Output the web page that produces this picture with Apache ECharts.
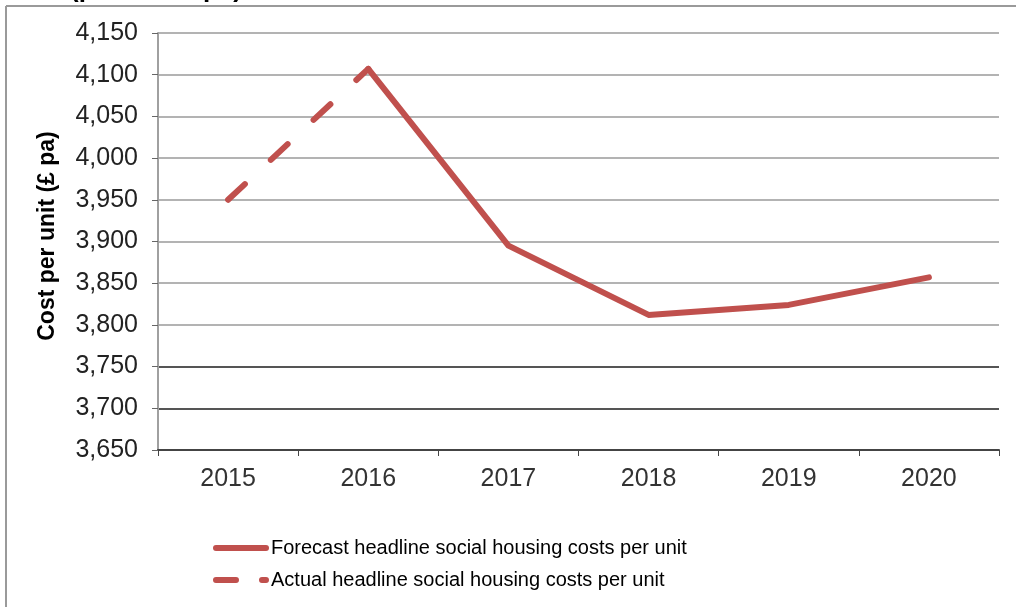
<!DOCTYPE html>
<html>
<head>
<meta charset="utf-8">
<script src="https://cdn.jsdelivr.net/npm/echarts@6/dist/echarts.min.js"></script>
<style>
html,body{margin:0;padding:0;background:#fff;}
#chart{width:1016px;height:607px;}
</style>
</head>
<body>
<div id="chart"></div>
<script>
const years = ['2015', '2016', '2017', '2018', '2019', '2020'];
const actualCosts = [3950, 4107, null, null, null, null];
const forecastCosts = [null, 4107, 3895, 3812, 3824, 3857];
const yMin = 3650, yMax = 4150, yStep = 50;
const forecastName = 'Forecast headline social housing costs per unit';
const actualName = 'Actual headline social housing costs per unit';
const axisTitle = 'Cost per unit (£ pa)';
const topTitle = '(per unit £ pa)';

const red = '#C0504D';
const chart = echarts.init(document.getElementById('chart'), null, {renderer: 'canvas'});
const gridColors = ['#444', '#555', '#555', '#b3b3b3', '#b3b3b3', '#b3b3b3', '#b3b3b3', '#b3b3b3', '#b3b3b3', '#b3b3b3', '#b3b3b3'];

chart.setOption({
  animation: false,
  backgroundColor: '#fff',
  grid: {left: 158, right: 17, top: 33, bottom: 157, containLabel: false},
  xAxis: {
    type: 'category',
    data: years,
    boundaryGap: true,
    axisLine: {lineStyle: {color: '#444', width: 2}},
    axisTick: {show: true, length: 6, lineStyle: {color: '#444', width: 1}},
    axisLabel: {fontFamily: 'Liberation Sans, Arial', fontSize: 25, color: '#333', margin: 17}
  },
  yAxis: {
    type: 'value',
    min: yMin, max: yMax, interval: yStep,
    axisLine: {show: true, lineStyle: {color: '#a0a0a0', width: 2}},
    axisTick: {show: true, length: 6, lineStyle: {color: '#666', width: 1}},
    splitLine: {show: true, lineStyle: {color: gridColors, width: 2}},
    axisLabel: {
      fontFamily: 'Liberation Sans, Arial', fontSize: 25, color: '#222', margin: 20,
      formatter: v => v.toLocaleString('en-US')
    }
  },
  legend: {
    orient: 'vertical',
    left: 208, top: 532,
    itemWidth: 50, itemHeight: 22, itemGap: 10,
    itemStyle: {opacity: 0},
    textStyle: {fontFamily: 'Liberation Sans, Arial', fontSize: 20, color: '#000', lineHeight: 22},
    data: [
      {name: forecastName, lineStyle: {width: 6, cap: 'round', type: 'solid'}},
      {name: actualName, lineStyle: {width: 6, cap: 'round', type: [20, 26]}}
    ]
  },
  graphic: [
    {type: 'line', shape: {x1: 6, y1: 6, x2: 1016, y2: 6}, style: {stroke: '#9a9a9a', lineWidth: 2}},
    {type: 'line', shape: {x1: 6, y1: 6, x2: 6, y2: 607}, style: {stroke: '#9a9a9a', lineWidth: 2}},
    {type: 'line', shape: {x1: 158, y1: 352, x2: 158, y2: 437}, style: {stroke: '#777', lineWidth: 2}},
    {type: 'text', x: 70, y: -10, style: {text: topTitle, font: 'bold 26px Liberation Sans, Arial', fill: '#000', verticalAlign: 'middle'}},
    {type: 'text', x: 48, y: 236, rotation: Math.PI / 2,
     style: {text: axisTitle, font: 'bold 23px Liberation Sans, Arial', fill: '#000', align: 'center', verticalAlign: 'middle'}}
  ],
  series: [
    {
      name: forecastName, type: 'line', data: forecastCosts,
      symbol: 'none', connectNulls: false,
      lineStyle: {color: red, width: 6, cap: 'round', join: 'round'},
      itemStyle: {color: red}
    },
    {
      name: actualName, type: 'line', data: actualCosts,
      symbol: 'none', connectNulls: false,
      lineStyle: {color: red, width: 6, type: [23, 35.5], cap: 'round', join: 'round'},
      itemStyle: {color: red}
    }
  ]
});
</script>
</body>
</html>
